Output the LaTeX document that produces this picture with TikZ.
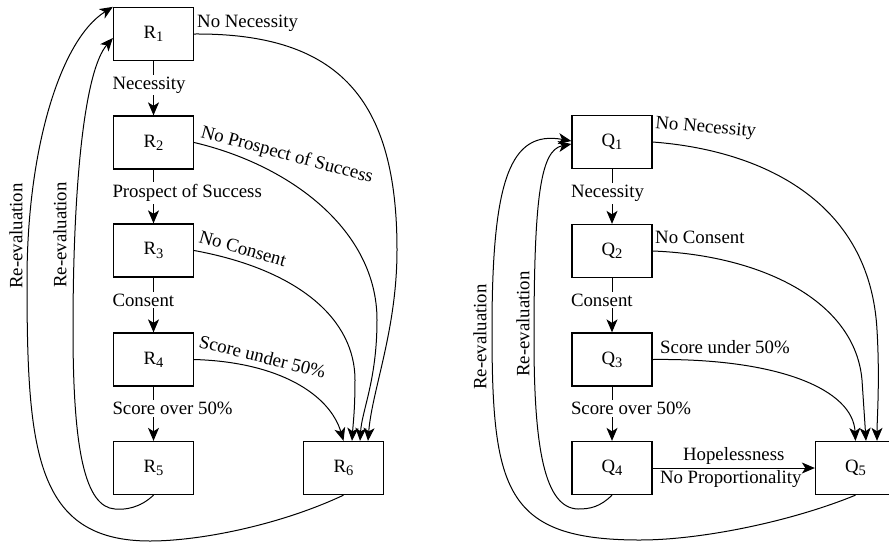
\documentclass[tikz,border=0pt]{standalone}
\usepackage{fontspec}
\setmainfont{Liberation Serif}
\usetikzlibrary{arrows.meta}
\newcommand\lowidx[1]{\raisebox{-0.17em}{\fontsize{14.5}{15}\selectfont #1}}
\begin{document}
\begin{tikzpicture}[x=1pt,y=-1pt,
  font=\fontsize{18.8}{22}\selectfont,
  box/.style={draw, line width=1.3pt, minimum width=80pt, minimum height=53pt, inner sep=0pt},
  arr/.style={line width=1pt, -{Stealth[length=13pt,width=11pt,inset=3.5pt]}},
  lab/.style={fill=white, inner xsep=0pt, inner ysep=2pt, anchor=base west},
  tl/.style={anchor=base west, inner sep=0pt},
  rl/.style={rotate=90, inner sep=0pt}]
\useasboundingbox (0,0) rectangle (889,542);

% left column
\node[box] (R1) at (153.5,34) {R\lowidx{1}};
\node[box] (R2) at (153.5,142.5) {R\lowidx{2}};
\node[box] (R3) at (153.5,250.5) {R\lowidx{3}};
\node[box] (R4) at (153.5,359.5) {R\lowidx{4}};
\node[box] (R5) at (153.5,468) {R\lowidx{5}};
\node[box] (R6) at (343.5,468) {R\lowidx{6}};

\draw[arr] (R1) -- (R2) node[midway, lab, xshift=-41.5pt, yshift=-1pt] {Necessity};
\draw[arr] (R2) -- (R3) node[midway, lab, xshift=-41.5pt, yshift=-1pt] {Prospect of Success};
\draw[arr] (R3) -- (R4) node[midway, lab, xshift=-41.5pt, yshift=-1pt] {Consent};
\draw[arr] (R4) -- (R5) node[midway, lab, xshift=-41.5pt, yshift=-1pt] {Score over 50\%};

\draw[arr] (R1.east) .. controls (340,33) and (397,100) .. (397,250)
  .. controls (397,330) and (372,390) .. ([xshift=24.5pt]R6.north);
\draw[arr] (R2.east) .. controls (290,165) and (377,230) .. (377,320)
  .. controls (377,380) and (362,410) .. ([xshift=16.5pt]R6.north);
\draw[arr] (R3.east) .. controls (300,270) and (355,320) .. (355,380)
  .. controls (355,410) and (353,425) .. ([xshift=8.5pt]R6.north);
\draw[arr] (R4.east) .. controls (280,362) and (330,395) .. (R6.north);

\node[tl] (lR1) at (197,27) {No Necessity};
\node[tl, rotate=-15] (lR2) at (200,137) {No Prospect of Success};
\node[tl, rotate=-16] (lR3) at (198,242) {No Consent};
\node[tl, rotate=-14] (lR4) at (198,347) {Score under 50\%};

\draw[arr] (R6.south) .. controls (280,525) and (200,541) .. (150,541)
  .. controls (35,541) and (27,450) .. (27,280)
  .. controls (27,150) and (60,40) .. (R1.north west);
\draw[arr] (R5.south) .. controls (140,508) and (125,510) .. (115,509)
  .. controls (85,507) and (73,450) .. (73,330)
  .. controls (73,180) and (85,70) .. ([yshift=-4pt]R1.west);
\node[rl] (reL1) at (16,236) {Re-evaluation};
\node[rl] (reL2) at (60,235) {Re-evaluation};

% right column
\node[box] (Q1) at (612,142) {Q\lowidx{1}};
\node[box] (Q2) at (612,251) {Q\lowidx{2}};
\node[box] (Q3) at (612,359.5) {Q\lowidx{3}};
\node[box] (Q4) at (612,468) {Q\lowidx{4}};
\node[box] (Q5) at (855.5,468) {Q\lowidx{5}};

\draw[arr] (Q1) -- (Q2) node[midway, lab, xshift=-41.5pt, yshift=-1pt] {Necessity};
\draw[arr] (Q2) -- (Q3) node[midway, lab, xshift=-41.5pt, yshift=-1pt] {Consent};
\draw[arr] (Q3) -- (Q4) node[midway, lab, xshift=-41.5pt, yshift=-1pt] {Score over 50\%};
\draw[arr] (Q4) -- node[above, inner sep=3pt] {Hopelessness}
  node[below, inner sep=2pt, xshift=-3pt] {No Proportionality} (Q5);

\draw[arr] (Q1.east) .. controls (760,150) and (870,200) .. (877,330)
  .. controls (880,380) and (877,420) .. ([xshift=21.5pt]Q5.north);
\draw[arr] (Q2.east) .. controls (760,255) and (855,300) .. (862,380)
  .. controls (864,410) and (865,425) .. ([xshift=10.5pt]Q5.north);
\draw[arr] (Q3.east) .. controls (780,358) and (853,390) .. (Q5.north);

\node[tl, rotate=-5] (lQ1) at (655,128) {No Necessity};
\node[tl] (lQ2) at (655,243) {No Consent};
\node[tl] (lQ3) at (660,353) {Score under 50\%};

\draw[arr] (Q5.south) .. controls (790,522) and (700,540) .. (640,540)
  .. controls (505,540) and (492,490) .. (492,330)
  .. controls (492,180) and (510,130) .. ([yshift=1pt]Q1.west);
\draw[arr] (Q4.south) .. controls (600,507) and (590,509) .. (578,509)
  .. controls (545,508) and (534,450) .. (534,340)
  .. controls (534,200) and (540,150) .. ([yshift=-2pt]Q1.west);
\node[rl] (reQ1) at (480,337) {Re-evaluation};
\node[rl] (reQ2) at (523,324) {Re-evaluation};
\end{tikzpicture}
\end{document}
